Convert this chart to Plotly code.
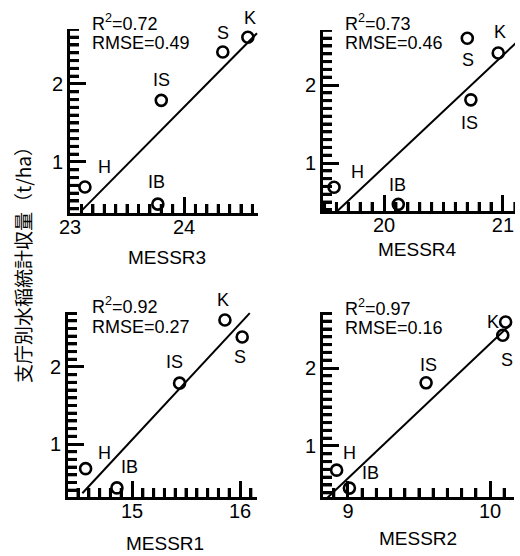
import math
import plotly.graph_objects as go

# ---------------- data ----------------
names = ["K", "S", "IS", "H", "IB"]

messr3_x = [24.56, 24.34, 23.80, 23.13, 23.77]
messr3_y = [2.60, 2.41, 1.79, 0.68, 0.46]
messr4_x = [20.96, 20.70, 20.73, 19.58, 20.12]
messr4_y = [2.41, 2.60, 1.81, 0.69, 0.47]
messr1_x = [15.86, 16.02, 15.44, 14.57, 14.86]
messr1_y = [2.61, 2.39, 1.79, 0.68, 0.43]
messr2_x = [10.11, 10.09, 9.55, 8.92, 9.01]
messr2_y = [2.59, 2.42, 1.81, 0.69, 0.46]

fit3_x, fit3_y = [23.09, 24.64], [0.36, 2.65]
fit4_x, fit4_y = [19.59, 21.11], [0.36, 2.54]
fit1_x, fit1_y = [14.54, 16.09], [0.36, 2.70]
fit2_x, fit2_y = [8.84, 10.14], [0.31, 2.55]

r2_vals = ["0.72", "0.73", "0.92", "0.97"]
rmse_vals = ["0.49", "0.46", "0.27", "0.16"]
band_titles = ["MESSR3", "MESSR4", "MESSR1", "MESSR2"]
y_title = "支庁別水稲統計収量（t/ha）"

# ---------------- layout helpers ----------------
W, H = 520, 556
FONT = "Liberation Sans, Arial, Helvetica, sans-serif"


def px_x(p):
    return p / W


def px_y(p):
    return 1 - p / H


def minor_values(lo, hi, step=0.1):
    vals = []
    k = math.ceil(lo / step - 1e-9)
    while k * step <= hi + 1e-9:
        if k % 10 != 0:
            vals.append(round(k * step, 6))
        k += 1
    return vals


panels = [
    dict(x=messr3_x, y=messr3_y, fx=fit3_x, fy=fit3_y,
         dx=(70, 258), dy=(29, 213), xr=[22.999, 24.649], yr=[0.346, 2.705],
         off=[(2, 19), (0, 19), (0, 20), (20, 20), (-1, 22)],
         stat=(90, 23, 43), title=(167, 257)),
    dict(x=messr4_x, y=messr4_y, fx=fit4_x, fy=fit4_y,
         dx=(323, 515), dy=(30, 211), xr=[19.487, 21.101], yr=[0.385, 2.705],
         off=[(2, 21), (1, -22), (-1, -23), (23, 15), (-1, 19)],
         stat=(343, 23, 43), title=(417, 249)),
    dict(x=messr1_x, y=messr1_y, fx=fit1_x, fy=fit1_y,
         dx=(68, 257), dy=(312, 497), xr=[14.407, 16.157], yr=[0.312, 2.714],
         off=[(-2, 20), (-2, -20), (-5, 21), (19, 16), (13, 21)],
         stat=(90, 305, 327), title=(165, 543)),
    dict(x=messr2_x, y=messr2_y, fx=fit2_x, fy=fit2_y,
         dx=(323, 514), dy=(312, 497), xr=[8.824, 10.169], yr=[0.346, 2.718],
         off=[(-13, 0), (4, -25), (2, 18), (13, 17), (21, 15)],
         stat=(343, 307, 328), title=(418, 538)),
]

fig = go.Figure()
annotations = []
shapes = []
layout = dict(
    width=W, height=H, autosize=False,
    margin=dict(l=0, r=0, t=0, b=0, pad=0, autoexpand=False),
    paper_bgcolor="white", plot_bgcolor="white",
    showlegend=False,
    font=dict(family=FONT, color="black", size=19),
)

MINOR_LEN = 9
MINOR_W = 3

for i, p in enumerate(panels, start=1):
    xa = "x" if i == 1 else f"x{i}"
    ya = "y" if i == 1 else f"y{i}"
    xkey = "xaxis" if i == 1 else f"xaxis{i}"
    ykey = "yaxis" if i == 1 else f"yaxis{i}"

    xdom = [px_x(p["dx"][0]), px_x(p["dx"][1])]
    ydom = [px_y(p["dy"][1]), px_y(p["dy"][0])]

    fig.add_trace(go.Scatter(x=p["fx"], y=p["fy"], mode="lines",
                             line=dict(color="black", width=2),
                             xaxis=xa, yaxis=ya, hoverinfo="skip"))
    fig.add_trace(go.Scatter(x=p["x"], y=p["y"], mode="markers",
                             marker=dict(symbol="circle-open", size=11, color="black",
                                         line=dict(width=2.6, color="black")),
                             xaxis=xa, yaxis=ya, cliponaxis=False))

    common = dict(showgrid=False, zeroline=False, showline=True, linecolor="black",
                  linewidth=3, ticks="inside", tickcolor="black", tickwidth=2.5,
                  ticklen=16, tickmode="linear", tick0=0, dtick=1, fixedrange=True,
                  automargin=False,
                  tickfont=dict(family=FONT, size=20, color="black"),
                  minor=dict(ticks="inside", ticklen=MINOR_LEN, tickwidth=MINOR_W,
                             tickcolor="black", tickmode="linear", tick0=0, dtick=0.1))
    layout[xkey] = dict(common, domain=xdom, range=p["xr"], anchor=ya,
                        ticklabelstandoff=-6)
    layout[ykey] = dict(common, domain=ydom, range=p["yr"], anchor=xa)

    # minor ticks every 0.1, also drawn as short strokes on the axes
    for v in minor_values(p["xr"][0], p["xr"][1]):
        shapes.append(dict(type="line", xref=xa, yref=f"{ya} domain",
                           ysizemode="pixel", yanchor=0, x0=v, x1=v, y0=0, y1=MINOR_LEN,
                           line=dict(color="black", width=MINOR_W), layer="above"))
    for v in minor_values(p["yr"][0], p["yr"][1]):
        shapes.append(dict(type="line", yref=ya, xref=f"{xa} domain",
                           xsizemode="pixel", xanchor=0, y0=v, y1=v, x0=-2, x1=MINOR_LEN,
                           line=dict(color="black", width=MINOR_W), layer="above"))

    for n, xv, yv, (ox, oy) in zip(names, p["x"], p["y"], p["off"]):
        annotations.append(dict(x=xv, y=yv, xref=xa, yref=ya, text=n, showarrow=False,
                                xshift=ox, yshift=oy,
                                font=dict(family=FONT, size=18, color="black")))

    sx, sy1, sy2 = p["stat"]
    annotations.append(dict(x=px_x(sx), y=px_y(sy1), xref="paper", yref="paper",
                            xanchor="left", yanchor="middle", showarrow=False,
                            text=f"R<sup>2</sup>={r2_vals[i-1]}",
                            font=dict(family=FONT, size=18, color="black")))
    annotations.append(dict(x=px_x(sx), y=px_y(sy2), xref="paper", yref="paper",
                            xanchor="left", yanchor="middle", showarrow=False,
                            text=f"RMSE={rmse_vals[i-1]}",
                            font=dict(family=FONT, size=18, color="black")))
    tx, ty = p["title"]
    annotations.append(dict(x=px_x(tx), y=px_y(ty), xref="paper", yref="paper",
                            xanchor="center", yanchor="middle", showarrow=False,
                            text=band_titles[i-1],
                            font=dict(family=FONT, size=19, color="black")))

annotations.append(dict(x=px_x(22), y=px_y(260), xref="paper", yref="paper",
                        xanchor="center", yanchor="middle", showarrow=False,
                        textangle=-90, text=y_title,
                        font=dict(family="Noto Sans CJK JP", size=19, color="black")))

layout["annotations"] = annotations
layout["shapes"] = shapes
fig.update_layout(**layout)
fig.write_html("out.html")
